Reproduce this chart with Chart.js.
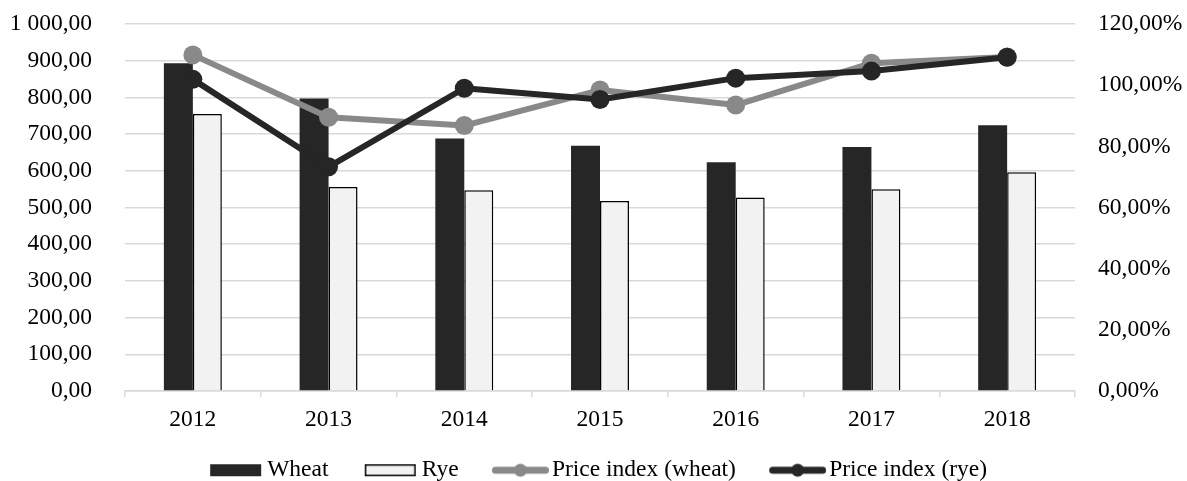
<!DOCTYPE html>
<html lang="en">
<head>
<meta charset="UTF-8">
<title>Wheat and rye prices</title>
<script src="https://cdn.jsdelivr.net/npm/chart.js"></script>
<style>
    * { margin: 0; padding: 0; box-sizing: border-box; }
    body { background: #fff; }
    .wrap { width: 1187px; height: 481px; position: relative; }
</style>
</head>
<body>
<div class="wrap"><canvas id="chart"></canvas></div>

<script>
    // values
    const years = ['2012', '2013', '2014', '2015', '2016', '2017', '2018'];
    const wheat = [893, 797, 688, 668, 623, 665, 724];
    const rye = [755, 556, 547, 518, 527, 550, 596];
    const priceWheat = [109.9, 89.5, 86.8, 98.4, 93.5, 107.2, 109.2];
    const priceRye = [101.9, 73.3, 99.0, 95.3, 102.3, 104.6, 109.1];

    const DARK = '#262626';
    const LIGHT = '#f2f2f2';
    const GREY = '#898989';
    const GRID = '#d9d9d9';
    const FONT = "'Liberation Serif', 'Times New Roman', serif";
    const FSIZE = 23.5;

    function fmtNum(v) {
        const s = v.toFixed(2).replace('.', ',');
        const [i, d] = s.split(',');
        return i.replace(/\B(?=(\d{3})+(?!\d))/g, ' ') + ',' + d;
    }

    // legend symbols on small canvases (Chart.js centres them in the box),
    // the left part stays transparent so the gaps come out right
    function symbol(kind, color) {
        const c = document.createElement('canvas');
        c.width = 77;
        c.height = 24;
        const g = c.getContext('2d');
        if (kind === 'bar') {
            g.fillStyle = color;
            g.fillRect(23, 6, 51, 12);
        } else if (kind === 'box') {
            g.fillStyle = LIGHT;
            g.fillRect(23, 6, 51, 12);
            g.strokeStyle = '#000';
            g.lineWidth = 1.5;
            g.strokeRect(23.75, 6.75, 49.5, 10.5);
        } else {
            g.strokeStyle = color;
            g.lineWidth = 7;
            g.lineCap = 'round';
            g.beginPath();
            g.moveTo(23.5, 12);
            g.lineTo(73.5, 12);
            g.stroke();
            g.fillStyle = color;
            g.beginPath();
            g.arc(48.5, 12, 6.5, 0, Math.PI * 2);
            g.fill();
        }
        return c;
    }

    const legendSymbols = [
        symbol('bar', DARK),
        symbol('box'),
        symbol('line', GREY),
        symbol('line', DARK)
    ];

    // keep the tick padding from pushing the plot area down
    function trimPadding(s) {
        s.paddingTop = 14;
        s.paddingBottom = 14;
    }

    const ctx = document.getElementById('chart').getContext('2d');
    new Chart(ctx, {
        data: {
            labels: years,
            datasets: [
                {
                    type: 'line',
                    label: 'Price index (rye)',
                    data: priceRye,
                    yAxisID: 'y1',
                    borderColor: DARK,
                    backgroundColor: DARK,
                    borderWidth: 6,
                    pointRadius: 9.5,
                    pointHoverRadius: 9.5,
                    pointBorderWidth: 0,
                    borderJoinStyle: 'round',
                    order: 0
                },
                {
                    type: 'line',
                    label: 'Price index (wheat)',
                    data: priceWheat,
                    yAxisID: 'y1',
                    borderColor: GREY,
                    backgroundColor: GREY,
                    borderWidth: 6,
                    pointRadius: 9.5,
                    pointHoverRadius: 9.5,
                    pointBorderWidth: 0,
                    borderJoinStyle: 'round',
                    order: 1
                },
                {
                    type: 'bar',
                    label: 'Wheat',
                    data: wheat,
                    yAxisID: 'y',
                    backgroundColor: DARK,
                    borderWidth: 0,
                    categoryPercentage: 0.427,
                    barPercentage: 1,
                    order: 2
                },
                {
                    type: 'bar',
                    label: 'Rye',
                    data: rye,
                    yAxisID: 'y',
                    backgroundColor: LIGHT,
                    borderColor: '#000',
                    borderWidth: 1.5,
                    categoryPercentage: 0.427,
                    barPercentage: 1,
                    order: 3
                }
            ]
        },
        options: {
            responsive: true,
            maintainAspectRatio: false,
            animation: false,
            layout: { padding: { left: -4, right: 0, top: 24, bottom: -11 } },
            plugins: {
                tooltip: { enabled: false },
                legend: {
                    position: 'bottom',
                    labels: {
                        color: '#000',
                        font: { family: FONT, size: FSIZE },
                        usePointStyle: true,
                        pointStyleWidth: 59.5,
                        boxHeight: 12,
                        padding: 22,
                        generateLabels: () => ['Wheat', 'Rye', 'Price index (wheat)', 'Price index (rye)'].map((t, i) => ({
                            text: t,
                            pointStyle: legendSymbols[i],
                            fontColor: '#000',
                            hidden: false,
                            lineWidth: 0,
                            datasetIndex: [2, 3, 1, 0][i]
                        }))
                    }
                }
            },
            scales: {
                x: {
                    grid: {
                        offset: true,
                        drawOnChartArea: false,
                        drawTicks: true,
                        tickLength: 6,
                        color: GRID,
                        lineWidth: 1.5
                    },
                    border: { color: GRID, width: 1.5 },
                    ticks: {
                        color: '#000',
                        font: { family: FONT, size: FSIZE },
                        padding: 9,
                        maxRotation: 0
                    },
                    afterFit: s => { s.height = 45.5; }
                },
                y: {
                    position: 'left',
                    min: 0,
                    max: 1000,
                    grid: { color: GRID, lineWidth: 1.5, drawTicks: false },
                    border: { display: false },
                    ticks: {
                        stepSize: 100,
                        color: '#000',
                        font: { family: FONT, size: FSIZE },
                        padding: 33,
                        callback: v => fmtNum(v)
                    },
                    afterFit: s => { s.width = 129; trimPadding(s); }
                },
                y1: {
                    position: 'right',
                    min: 0,
                    max: 120,
                    grid: { drawOnChartArea: false, drawTicks: false },
                    border: { display: false },
                    ticks: {
                        stepSize: 20,
                        color: '#000',
                        font: { family: FONT, size: FSIZE },
                        padding: 23,
                        callback: v => v.toFixed(2).replace('.', ',') + '%'
                    },
                    afterFit: s => { s.width = 112; trimPadding(s); }
                }
            }
        }
    });
</script>
</body>
</html>
